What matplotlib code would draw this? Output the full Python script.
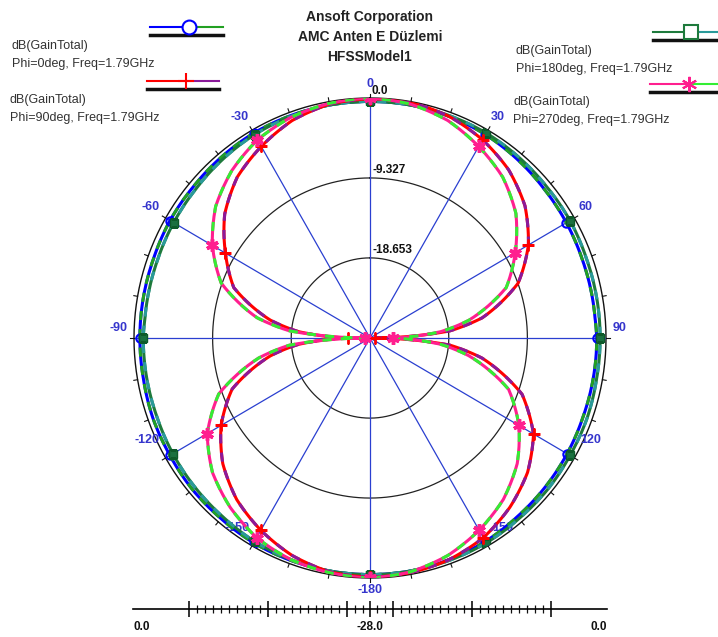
import numpy as np
import matplotlib.pyplot as plt

plt.rcParams['font.family'] = ['Liberation Sans', 'DejaVu Sans']

# angles in degrees (0 at top, clockwise) and gain in dB
angles = [-180, -170, -160, -150, -140, -130, -120, -110, -100, -95, -90, -85, -80,
          -70, -60, -50, -40, -30, -20, -10, 0, 10, 20, 30, 40, 50, 60, 70, 80, 85,
          90, 95, 100, 110, 120, 130, 140, 150, 160, 170, 180]

gain_phi0 = [-0.4, -0.4, -0.4, -0.4, -0.5, -0.5, -0.6, -0.6, -0.7, -0.7, -0.7, -0.7, -0.7,
             -0.7, -0.6, -0.6, -0.5, -0.4, -0.4, -0.4, -0.4, -0.4, -0.5, -0.6, -0.8, -1.0,
             -1.1, -1.2, -1.2, -1.2, -1.1, -1.1, -1.1, -1.1, -1.0, -0.9, -0.8, -0.6, -0.5,
             -0.4, -0.4]
gain_phi90 = [-0.1, -0.3, -1.0, -2.1, -3.4, -5.2, -7.6, -10.6, -16.0, -19.5, -25.4, -19.5,
              -16.0, -10.8, -8.2, -5.5, -3.5, -2.2, -1.0, -0.3, -0.1, -0.1, -0.5, -1.3, -2.4,
              -4.0, -6.3, -9.3, -14.5, -18.5, -27.4, -18.5, -14.5, -8.8, -5.6, -3.6, -2.2,
              -1.1, -0.5, -0.2, -0.1]
gain_phi180 = [-0.4, -0.4, -0.5, -0.6, -0.8, -0.9, -1.0, -1.1, -1.1, -1.1, -1.1, -1.2, -1.2,
               -1.2, -1.1, -1.0, -0.8, -0.6, -0.5, -0.4, -0.4, -0.4, -0.4, -0.4, -0.5, -0.6,
               -0.6, -0.7, -0.7, -0.7, -0.7, -0.7, -0.7, -0.6, -0.6, -0.5, -0.5, -0.4, -0.4,
               -0.4, -0.4]
gain_phi270 = [0.0, -0.2, -0.5, -1.1, -2.2, -3.6, -5.7, -8.9, -14.6, -18.4, -27.4, -18.4,
               -14.4, -9.2, -6.4, -4.1, -2.5, -1.3, -0.6, -0.2, 0.0, -0.3, -1.0, -2.2, -3.5,
               -5.4, -8.1, -10.8, -16.1, -19.6, -25.3, -19.6, -16.1, -10.5, -7.6, -5.2, -3.4,
               -2.1, -1.0, -0.3, 0.0]

ring_values = [-18.653, -9.327]
ring_labels = ['-18.653', '-9.327']
rmin, rmax = -28.0, 0.0

angle_ticks = [0, 30, 60, 90, 120, 150, 180, -150, -120, -90, -60, -30]
angle_tick_labels = ['0', '30', '60', '90', '120', '150', '-180', '-150', '-120', '-90', '-60', '-30']
# label offsets in pixels from the end of each spoke
angle_label_offsets = [(0, 14), (10, 13), (11, 11), (14, 10), (16, 18), (15, 18), (0, -12),
                       (-15, 18), (-19, 18), (-16, 10), (-15, 11), (-12, 13)]

traces = [
    ('Phi=0deg', gain_phi0, '#0000ff', '#22a022', 'o'),
    ('Phi=180deg', gain_phi180, '#1e7a3c', '#2a9a9a', 's'),
    ('Phi=90deg', gain_phi90, '#ff0000', '#8a1a9a', '+'),
    ('Phi=270deg', gain_phi270, '#ff1f8f', '#33ee33', (6, 2, 0)),
]

W, H = 718, 637
fig = plt.figure(figsize=(W / 100, H / 100), dpi=100)

cx, cy, rx, ry = 370, 338, 236, 240
ax = fig.add_axes([(cx - rx) / W, (H - cy - ry) / H, 2 * rx / W, 2 * ry / H],
                  projection='polar')
ax.set_theta_zero_location('N')
ax.set_theta_direction(-1)
ax.set_ylim(rmin, rmax)
ax.set_aspect('auto')
ax.grid(False)
ax.set_xticks([])
ax.set_yticks([])
ax.spines['polar'].set_visible(False)
ax.patch.set_alpha(0)

full = np.linspace(0, 2 * np.pi, 721)
for rv, lab in zip(ring_values, ring_labels):
    ax.plot(full, np.full_like(full, rv), color='#222222', lw=0.9, zorder=1)
    ax.annotate(lab, xy=(0, rv), xytext=(3, 2), textcoords='offset pixels',
                ha='left', va='bottom', fontsize=8.5, fontweight='bold', color='#111111')
ax.plot(full, np.full_like(full, rmax), color='#111111', lw=1.0, zorder=1, clip_on=False)
for t in range(0, 360, 10):
    ax.plot([np.deg2rad(t)] * 2, [rmax, rmax + 0.45], color='#111111', lw=0.8, clip_on=False)
ax.annotate('0.0', xy=(0, rmax), xytext=(2, 1), textcoords='offset pixels',
            ha='left', va='bottom', fontsize=8.5, fontweight='bold', color='#111111')

for t in range(-180, 180, 30):
    ax.plot([np.deg2rad(t)] * 2, [rmin, rmax], color='#2a3fd0', lw=0.9, zorder=1)

for t, lab, (dx, dy) in zip(angle_ticks, angle_tick_labels, angle_label_offsets):
    ax.annotate(lab, xy=(np.deg2rad(t), rmax), xytext=(dx, dy), textcoords='offset pixels',
                ha='center', va='center', fontsize=9, fontweight='bold', color='#3535cc',
                annotation_clip=False)

theta = np.deg2rad(angles)
marks = [i for i, a in enumerate(angles) if a % 30 == 0]


def polar_line(*args, **kw):
    # let the polar transform follow arcs between the read points
    line = ax.plot(*args, **kw)[0]
    line.get_path()._interpolation_steps = 16
    return line


for z, (name, gain, c1, c2, mk) in enumerate(traces):
    polar_line(theta, gain, color=c1, lw=2.2, zorder=3 + z)
    polar_line(theta, gain, color=c2, lw=2.2, dashes=(3, 3), zorder=3 + z)
    if mk == 'o':
        ax.plot(theta, gain, ls='none', marker='o', ms=6, mfc='none', mec=c1, mew=1.5,
                markevery=marks, zorder=3 + z)
    elif mk == 's':
        ax.plot(theta, gain, ls='none', marker='s', ms=6, mfc='#1a7040', mec='#0d5a2a',
                markevery=marks, zorder=3 + z)
    elif mk == '+':
        ax.plot(theta, gain, ls='none', marker='+', ms=9, mec=c1, mew=2,
                markevery=marks, zorder=3 + z)
    else:
        ax.plot(theta, gain, ls='none', marker=mk, ms=9, mec=c1, mew=2.5,
                markevery=marks, zorder=3 + z)

# bottom dB scale
bx = fig.add_axes([133 / W, (H - 609) / H, 474 / W, 0.0001])
bx.set_xlim(-28, 28)
bx.set_ylim(0, 1)
for s in ['top', 'left', 'right']:
    bx.spines[s].set_visible(False)
bx.spines['bottom'].set_linewidth(1.2)
bx.set_yticks([])
step = 9.327
major = [0.0] + [s * (2.7 + k * step) for k in range(3) for s in (-1, 1)]
minor = [s * (2.7 + k * step / 10) for k in range(-2, 21) for s in (-1, 1) if k % 10 != 0]
bx.set_xticks(sorted(major))
bx.set_xticks(sorted(minor), minor=True)
bx.set_xticklabels([])
bx.tick_params(which='major', direction='inout', length=11, width=1.2, color='#111111')
bx.tick_params(which='minor', direction='inout', length=6, width=0.9, color='#111111')
for x, lab, ha in [(-28, '0.0', 'left'), (0, '-28.0', 'center'), (28, '0.0', 'right')]:
    bx.annotate(lab, xy=(x, 0), xytext=(0, -18), textcoords='offset pixels', ha=ha,
                va='center', fontsize=8.5, fontweight='bold', color='#111111')

# overlay for title and legend (pixel coordinates)
ov = fig.add_axes([0, 0, 1, 1], zorder=10)
ov.set_xlim(0, W)
ov.set_ylim(H, 0)
ov.axis('off')
ov.patch.set_alpha(0)

for y, line in zip([17, 37, 57], ['Ansoft Corporation', 'AMC Anten E Düzlemi', 'HFSSModel1']):
    ov.text(370, y, line, ha='center', va='center', fontsize=10, fontweight='bold',
            color='#222222')

legend = [
    # x0, x1, y, marker x, text x, text y, trace index
    (150, 223, 27, 189, 12, 46, 0),
    (147, 219, 81, 186, 10, 100, 2),
    (653, 718, 32, 691, 516, 51, 1),
    (650, 718, 84, 689, 513, 102, 3),
]
for x0, x1, y, xm, tx, ty, idx in legend:
    name, gain, c1, c2, mk = traces[idx]
    ov.plot([x0, xm], [y, y], color=c1, lw=1.5)
    ov.plot([xm, x1], [y, y], color=c2, lw=1.5)
    ov.plot([x0, x1], [y + 8, y + 8], color='#111111', lw=2.5)
    if mk in ('o', 's'):
        ov.plot([xm], [y], marker=mk, ms=10, mfc='white', mec=c1 if mk == 'o' else '#1e7a3c',
                mew=1.5)
    else:
        ov.plot([xm], [y], marker=mk, ms=11, mec=c1, mew=1.5)
    ov.text(tx, ty, 'dB(GainTotal)', ha='left', va='center', fontsize=9, color='#333333')
    ov.text(tx, ty + 18, name + ', Freq=1.79GHz', ha='left', va='center', fontsize=9,
            color='#333333')

fig.savefig('out.png', dpi=100)
